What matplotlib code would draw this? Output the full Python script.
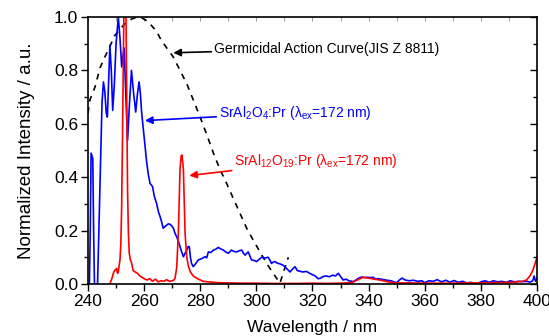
import matplotlib
matplotlib.use("Agg")
import matplotlib.pyplot as plt
from matplotlib.ticker import MultipleLocator

plt.rcParams['font.family'] = ['Liberation Sans', 'DejaVu Sans']
plt.rcParams['mathtext.fontset'] = 'custom'
plt.rcParams['mathtext.rm'] = 'Liberation Sans'
plt.rcParams['mathtext.it'] = 'Liberation Sans'
plt.rcParams['mathtext.default'] = 'regular'

# SrAl2O4:Pr emission
blue_wl = [240.5, 240.8, 241.1, 241.4, 241.7, 242.0, 242.3, 243.4, 244.0, 244.6, 245.0, 245.5,
           246.0, 246.5, 246.9, 247.3, 247.8, 248.3, 248.8, 249.4, 250.0, 250.8, 251.4, 252.0,
           252.5, 252.9, 253.5, 254.1, 254.8, 255.5, 256.2, 257.0, 257.6, 258.2, 258.7, 259.1,
           259.7, 260.3, 260.9, 261.5, 262.1, 262.6, 263.0, 263.6, 264.5, 265.1, 265.7, 266.3,
           266.8, 267.4, 268.0, 268.6, 269.2, 269.8, 270.4, 271.0, 271.6, 272.2, 272.8, 273.4,
           274.0, 274.6, 275.2, 275.7, 276.1, 276.5, 276.9, 277.5, 278.3, 279.3, 280.5, 281.7,
           282.3, 282.9, 283.8, 284.7, 285.5, 286.4, 287.2, 288.2, 289.1, 290.0, 290.5, 291.1,
           292.0, 293.0, 294.0, 294.8, 295.4, 296.0, 296.6, 297.1, 297.7, 298.3, 299.2, 300.1,
           301.0, 301.9, 303.0, 304.2, 304.8, 305.4, 306.0, 306.6, 307.5, 308.5, 309.6, 310.8,
           312.0, 312.8, 313.8, 314.6, 315.5, 316.5, 317.9, 319.0, 320.0, 321.0, 322.0, 322.7,
           323.8, 325.0, 326.0, 327.2, 328.2, 329.2, 330.0, 330.9, 332.0, 333.0, 334.5, 335.5,
           336.5, 337.5, 338.5, 339.5, 340.5, 341.6, 342.5, 343.5, 345.0, 346.5, 348.0, 349.0,
           350.0, 351.0, 352.0, 353.0, 354.5, 356.0, 357.5, 359.0, 360.0, 361.5, 363.0, 364.5,
           366.0, 367.5, 369.0, 370.5, 372.0, 373.5, 375.0, 376.5, 378.5, 380.0, 381.5, 383.0,
           384.5, 386.0, 387.5, 389.0, 390.5, 392.0, 393.5, 395.0, 396.5, 397.5, 398.5, 399.0,
           399.5, 400.0]
blue_val = [0.0, 0.2, 0.49, 0.48, 0.47, 0.2, 0.0, 0.0, 0.25, 0.5, 0.68, 0.757,
            0.72, 0.64, 0.625, 0.75, 0.894, 0.80, 0.65, 0.75, 0.9, 1.0, 0.92, 0.813,
            0.86, 0.884, 0.70, 0.538, 0.68, 0.80, 0.72, 0.644, 0.71, 0.757, 0.71, 0.644,
            0.58, 0.52, 0.457, 0.41, 0.377, 0.37, 0.365, 0.33, 0.30, 0.27, 0.252, 0.23,
            0.209, 0.215, 0.22, 0.225, 0.224, 0.218, 0.21, 0.19, 0.177, 0.16, 0.14, 0.12,
            0.102, 0.115, 0.127, 0.14, 0.14, 0.10, 0.077, 0.065, 0.075, 0.09, 0.095, 0.102,
            0.098, 0.12, 0.118, 0.127, 0.13, 0.137, 0.132, 0.127, 0.12, 0.115, 0.12, 0.127,
            0.122, 0.12, 0.125, 0.127, 0.115, 0.108, 0.115, 0.12, 0.105, 0.09, 0.088, 0.084,
            0.092, 0.1, 0.097, 0.1, 0.09, 0.077, 0.082, 0.084, 0.078, 0.075, 0.07, 0.058,
            0.045, 0.055, 0.065, 0.05, 0.048, 0.045, 0.047, 0.04, 0.035, 0.03, 0.02, 0.021,
            0.028, 0.03, 0.027, 0.033, 0.03, 0.04, 0.028, 0.015, 0.018, 0.012, 0.009, 0.015,
            0.022, 0.026, 0.024, 0.025, 0.024, 0.025, 0.018, 0.02, 0.017, 0.014, 0.012, 0.008,
            0.005, 0.015, 0.022, 0.015, 0.012, 0.014, 0.01, 0.012, 0.005, 0.012, 0.01, 0.016,
            0.008, 0.014, 0.007, 0.013, 0.006, 0.01, 0.004, 0.006, 0.0, 0.008, 0.012, 0.006,
            0.012, 0.008, 0.01, 0.006, 0.012, 0.008, 0.01, 0.009, 0.01, 0.007, 0.012, 0.03,
            0.01, 0.02]

# SrAl12O19:Pr emission
red_wl = [247.8, 248.5, 249.2, 249.6, 250.2, 250.5, 250.8, 251.1, 251.4, 251.7, 252.0, 252.3,
          252.6, 252.9, 253.2, 253.5, 253.8, 254.1, 254.4, 254.7, 255.1, 255.5, 256.1, 256.8,
          257.6, 258.5, 259.2, 260.0, 261.0, 262.0, 263.0, 264.0, 265.0, 266.0, 267.0, 268.0,
          269.0, 270.0, 270.6, 271.0, 271.6, 272.2, 272.8, 273.2, 273.5, 274.0, 274.6, 275.2,
          275.8, 276.5, 277.5, 279.0, 281.0, 283.0, 286.0, 290.0, 295.0, 300.0, 305.0, 310.0,
          315.0, 320.0, 325.0, 330.0, 334.0, 336.0, 338.0, 340.0, 342.0, 344.0, 346.0, 348.0,
          350.0, 355.0, 360.0, 365.0, 370.0, 375.0, 380.0, 385.0, 390.0, 393.0, 395.0, 396.3,
          397.5, 398.5, 399.3, 400.0]
red_val = [0.0, 0.02, 0.045, 0.052, 0.058, 0.04, 0.045, 0.07, 0.09, 0.15, 0.29, 0.55,
           0.85, 1.1, 1.15, 1.05, 0.7, 0.35, 0.19, 0.115, 0.09, 0.08, 0.05, 0.045,
           0.04, 0.03, 0.025, 0.02, 0.015, 0.02, 0.01, 0.018, 0.008, 0.012, 0.01, 0.016,
           0.01, 0.012, 0.015, 0.021, 0.06, 0.19, 0.43, 0.48, 0.483, 0.43, 0.19, 0.1,
           0.066, 0.045, 0.03, 0.02, 0.01, 0.008, 0.005, 0.004, 0.003, 0.003, 0.002, 0.002,
           0.002, 0.003, 0.002, 0.003, 0.005, 0.015, 0.025, 0.022, 0.018, 0.015, 0.01, 0.006,
           0.004, 0.004, 0.003, 0.003, 0.003, 0.004, 0.004, 0.005, 0.006, 0.008, 0.01, 0.015,
           0.03, 0.05, 0.075, 0.10]

# Germicidal action curve (JIS Z 8811)
germ_wl = [240.0, 240.7, 242.5, 244.3, 246.0, 247.8, 249.5, 251.4, 253.2, 255.0, 257.5, 259.5,
           261.5, 264.5, 266.0, 268.0, 270.4, 272.8, 275.2, 277.5, 279.9, 282.3, 284.7, 287.0,
           289.4, 291.8, 294.2, 296.5, 298.9, 301.3, 303.7, 306.0, 308.4, 311.4]
germ_val = [0.64, 0.69, 0.738, 0.81, 0.85, 0.89, 0.93, 0.955, 0.975, 0.99, 1.0, 0.995,
            0.982, 0.945, 0.915, 0.885, 0.85, 0.80, 0.75, 0.69, 0.627, 0.56, 0.49, 0.43,
            0.377, 0.32, 0.264, 0.21, 0.164, 0.12, 0.077, 0.04, 0.003, 0.10]

x_ticks = [240, 260, 280, 300, 320, 340, 360, 380, 400]
y_ticks = [0.0, 0.2, 0.4, 0.6, 0.8, 1.0]

BLUE = '#0000ff'
RED = '#ff0000'

fig = plt.figure(figsize=(5.49, 3.36), dpi=100)
ax = fig.add_axes([0.1603, 0.1548, 0.8177, 0.7946])

ax.plot(germ_wl, germ_val, color='black', lw=1.2, ls=(0, (3.5, 3.5)))
ax.plot(blue_wl, blue_val, color=BLUE, lw=1.2)
ax.plot(red_wl, red_val, color=RED, lw=1.2)

ax.set_xlim(240, 400)
ax.set_ylim(0, 1.0)
ax.set_xticks(x_ticks)
ax.set_yticks(y_ticks)
ax.set_xticklabels([str(t) for t in x_ticks])
ax.set_yticklabels([f"{t:.1f}" for t in y_ticks])
ax.xaxis.set_minor_locator(MultipleLocator(10))
ax.yaxis.set_minor_locator(MultipleLocator(0.1))

ax.tick_params(axis='both', which='major', labelsize=12.5, length=5, width=1, direction='out',
               top=False, right=False, pad=2)
ax.tick_params(axis='both', which='minor', length=3, width=1, direction='out', top=False, right=False)

secx = ax.secondary_xaxis('top')
secx.set_xticks(x_ticks)
secx.xaxis.set_minor_locator(MultipleLocator(10))
secx.tick_params(which='both', direction='in', length=3, width=0.6, labeltop=False, colors='#888888')
secx.spines['top'].set_visible(False)
secy = ax.secondary_yaxis('right')
secy.set_yticks(y_ticks)
secy.yaxis.set_minor_locator(MultipleLocator(0.1))
secy.tick_params(which='major', direction='in', length=5, width=1, labelright=False)
secy.tick_params(which='minor', direction='in', length=3, width=1, labelright=False)
secy.spines['right'].set_visible(False)

for s in ax.spines.values():
    s.set_linewidth(1.2)

ax.set_xlabel('Wavelength / nm', fontsize=12.5, labelpad=8)
ax.set_ylabel('Normalized Intensity / a.u.', fontsize=13.5, labelpad=14)

ann_fs = 10
ax.annotate('Germicidal Action Curve(JIS Z 8811)', xy=(270.4, 0.866), xytext=(285.0, 0.882),
            fontsize=ann_fs, color='black', va='center', ha='left',
            arrowprops=dict(arrowstyle='-|>', color='black', lw=1.2, mutation_scale=11,
                            shrinkA=0, shrinkB=0))
ax.annotate(r'SrAl$_{2}$O$_{4}$:Pr ($\lambda_{ex}$=172 nm)', xy=(260.3, 0.612), xytext=(286.7, 0.642),
            fontsize=ann_fs, color=BLUE, va='center', ha='left',
            arrowprops=dict(arrowstyle='-|>', color=BLUE, lw=1.2, mutation_scale=11,
                            shrinkA=0, shrinkB=0))
ax.annotate(r'SrAl$_{12}$O$_{19}$:Pr ($\lambda_{ex}$=172 nm)', xy=(276.1, 0.406), xytext=(292.2, 0.462),
            fontsize=ann_fs, color=RED, va='center', ha='left',
            arrowprops=dict(arrowstyle='-|>', color=RED, lw=1.2, mutation_scale=11,
                            shrinkA=0, shrinkB=0))

fig.savefig('out.png', dpi=100)
